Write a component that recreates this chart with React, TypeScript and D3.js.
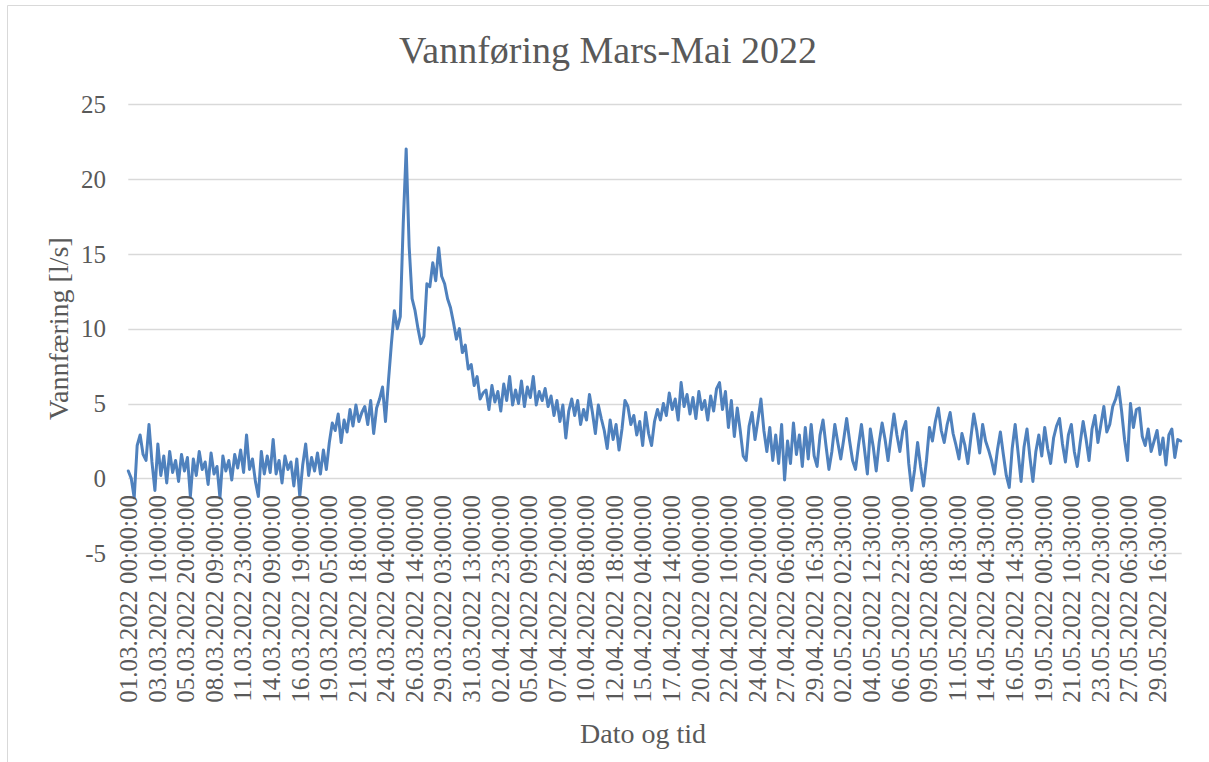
import React from "react";
import * as d3 from "d3";

const title = "Vannføring Mars-Mai 2022";
const yTitle = "Vannfæring [l/s]";
const xTitle = "Dato og tid";

const xLabels = [
  "01.03.2022 00:00:00", "03.03.2022 10:00:00", "05.03.2022 20:00:00", "08.03.2022 09:00:00",
  "11.03.2022 23:00:00", "14.03.2022 09:00:00", "16.03.2022 19:00:00", "19.03.2022 05:00:00",
  "21.03.2022 18:00:00", "24.03.2022 04:00:00", "26.03.2022 14:00:00", "29.03.2022 03:00:00",
  "31.03.2022 13:00:00", "02.04.2022 23:00:00", "05.04.2022 09:00:00", "07.04.2022 22:00:00",
  "10.04.2022 08:00:00", "12.04.2022 18:00:00", "15.04.2022 04:00:00", "17.04.2022 14:00:00",
  "20.04.2022 00:00:00", "22.04.2022 10:00:00", "24.04.2022 20:00:00", "27.04.2022 06:00:00",
  "29.04.2022 16:30:00", "02.05.2022 02:30:00", "04.05.2022 12:30:00", "06.05.2022 22:30:00",
  "09.05.2022 08:30:00", "11.05.2022 18:30:00", "14.05.2022 04:30:00", "16.05.2022 14:30:00",
  "19.05.2022 00:30:00", "21.05.2022 10:30:00", "23.05.2022 20:30:00", "27.05.2022 06:30:00",
  "29.05.2022 16:30:00",
];
const labelStep = 58; // categories between labels
const categoryCount = 2139;
const sampleStep = 6; // categories between stored samples

const yTicks = [-5, 0, 5, 10, 15, 20, 25];

// Vannføring [l/s] (one value per 6 categories)
const flow = [
  0.5, 0.0, -1.3, 2.2, 2.9, 1.6, 1.2, 3.6, 1.1, -0.8,
  2.3, 0.2, 1.5, -0.3, 1.8, 0.4, 1.2, -0.2, 1.6, 0.5,
  1.4, -1.2, 1.3, 0.2, 1.8, 0.6, 1.1, -0.4, 1.7, 0.3,
  0.8, -1.3, 1.5, 0.5, 1.2, -0.1, 1.6, 0.7, 1.9, 0.4,
  2.9, 0.6, 1.3, -0.2, -1.2, 1.8, 0.3, 1.5, 0.4, 2.6,
  0.3, 1.2, -0.3, 1.5, 0.6, 1.1, -0.5, 1.3, -1.2, 0.9,
  2.3, 0.2, 1.4, 0.5, 1.7, 0.3, 1.9, 0.6, 2.4, 3.7,
  3.2, 4.3, 2.4, 3.9, 3.1, 4.6, 3.5, 4.9, 3.8, 4.4,
  4.8, 3.6, 5.2, 3.0, 4.7, 5.3, 6.1, 3.8, 6.5, 9.0,
  11.2, 10.0, 10.8, 17.0, 22.0, 15.5, 12.0, 11.2, 10.0, 9.0,
  9.5, 13.0, 12.8, 14.4, 13.2, 15.4, 13.5, 13.0, 12.0, 11.4,
  10.4, 9.3, 10.0, 8.4, 8.9, 7.3, 7.6, 6.2, 6.8, 5.3,
  5.7,
  5.9, 4.6, 6.2, 5.1, 5.8, 4.5, 6.3, 5.2, 6.8, 4.9,
  5.9, 5.0, 6.5, 4.8, 6.1, 5.4, 6.8, 4.9, 5.8, 5.2,
  6.0, 4.8, 5.5, 4.2, 5.2, 3.8, 4.9, 2.7, 4.5, 5.3,
  4.2, 5.2, 3.6, 4.6, 3.9, 5.6, 4.4, 3.0, 4.9, 4.0,
  3.2, 2.0, 3.9, 2.6, 3.6, 1.9, 3.3, 5.2, 4.8, 3.6,
  4.2, 2.9, 3.8, 2.2, 4.4, 3.0, 2.2, 3.8, 4.6, 3.9,
  5.0, 4.2, 5.7, 4.6, 5.3, 3.9, 6.4, 4.8, 5.6, 4.3,
  5.4, 4.0, 5.8, 4.6, 5.2, 3.9, 5.5, 4.5, 6.0, 6.4,
  4.6, 5.8, 3.4, 5.2, 2.8, 4.7, 3.2, 1.5, 1.2, 3.5,
  4.4, 2.6, 3.9, 5.3, 3.2, 1.8, 3.4, 1.2, 2.9, 1.0,
  3.6, -0.1, 2.5, 1.0, 3.7, 1.6, 2.9, 0.8, 3.4, 1.3,
  3.6, 1.5, 0.8, 2.9, 3.9, 2.2, 0.6, 1.8, 3.6, 2.4,
  1.3, 2.6, 4.0, 2.5, 1.2, 0.6, 2.2, 3.6, 2.0, 0.3,
  3.3, 2.1, 0.5, 2.4, 3.7, 2.6, 1.2, 2.8, 4.3, 2.9,
  1.8, 3.2, 3.8, 1.0, -0.8, 0.6, 2.4, 0.8, -0.5, 1.2,
  3.4, 2.5, 3.8, 4.7, 3.2, 2.4, 3.6, 4.4, 3.0, 2.2,
  1.3, 3.0, 2.2, 1.0, 2.7, 4.3, 3.2, 1.7, 3.6, 2.5,
  1.9,
  1.2, 0.3, 1.9, 3.1, 1.6, 0.2, -0.6, 2.0, 3.6, 1.7,
  -0.2, 2.1, 3.3, 1.4, -0.2, 1.8, 2.9, 1.5, 3.4, 2.0,
  1.0, 2.7, 3.5, 4.0, 2.3, 1.1, 2.9, 3.6, 1.8, 0.8,
  2.4, 3.8, 2.6, 1.2, 3.3, 4.2, 2.4, 3.6, 4.8, 3.1,
  3.6, 4.8, 5.3, 6.1, 4.5, 2.6, 1.2, 5.0, 3.4, 4.6,
  4.7, 2.8, 2.2, 3.3, 1.8, 2.5, 3.2, 1.6, 2.7, 0.9,
  2.9, 3.3, 1.4, 2.6, 2.5,
];

const W = 1209;
const H = 762;
const plot = { left: 128.3, right: 1181.7, top: 104, bottom: 553.3 };
const textColor = "#595959";
const gridColor = "#d9d9d9";
const lineColor = "#4f81bd";
const font = "'Liberation Serif', 'Times New Roman', serif";

export default function App() {
  const x = d3.scaleLinear().domain([0, categoryCount - 1]).range([plot.left, plot.right]);
  const y = d3.scaleLinear().domain([-5, 25]).range([plot.bottom, plot.top]);
  const line = d3
    .line<number>()
    .x((_, i) => x(i * sampleStep))
    .y((d) => y(d));
  const pathD = line(flow) || "";
  const labelTop = 495;

  return (
    <svg
      width={W}
      height={H}
      style={{ position: "absolute", left: 0, top: 0, background: "#fff" }}
      fontFamily={font}
    >
      <rect x={0} y={0} width={W} height={H} fill="#fff" />
      {/* chart frame (top and left edges visible) */}
      <line x1={7.5} x2={W} y1={5.5} y2={5.5} stroke={gridColor} strokeWidth={1} />
      <line x1={7.5} x2={7.5} y1={5.5} y2={H} stroke={gridColor} strokeWidth={1} />

      <text x={608} y={63} textAnchor="middle" fontSize={38} fill={textColor}>
        {title}
      </text>

      {yTicks.map((t) => (
        <g key={t}>
          <line
            x1={plot.left}
            x2={plot.right}
            y1={Math.round(y(t)) + 0.5}
            y2={Math.round(y(t)) + 0.5}
            stroke={gridColor}
            strokeWidth={1.3}
          />
          <text x={106} y={y(t)} dy="0.35em" textAnchor="end" fontSize={25} fill={textColor}>
            {t}
          </text>
        </g>
      ))}

      <path
        d={pathD}
        fill="none"
        stroke={lineColor}
        strokeWidth={3}
        strokeLinejoin="round"
        strokeLinecap="round"
      />

      {xLabels.map((lab, i) => (
        <text
          key={lab}
          transform={`translate(${x(i * labelStep)},${labelTop}) rotate(-90)`}
          textAnchor="end"
          dy="0.35em"
          fontSize={25}
          fill={textColor}
        >
          {lab}
        </text>
      ))}

      <text
        transform={`translate(58,${(plot.top + plot.bottom) / 2}) rotate(-90)`}
        textAnchor="middle"
        dy="0.35em"
        fontSize={28}
        fill={textColor}
      >
        {yTitle}
      </text>

      <text x={643} y={743} textAnchor="middle" fontSize={28} fill={textColor}>
        {xTitle}
      </text>
    </svg>
  );
}
